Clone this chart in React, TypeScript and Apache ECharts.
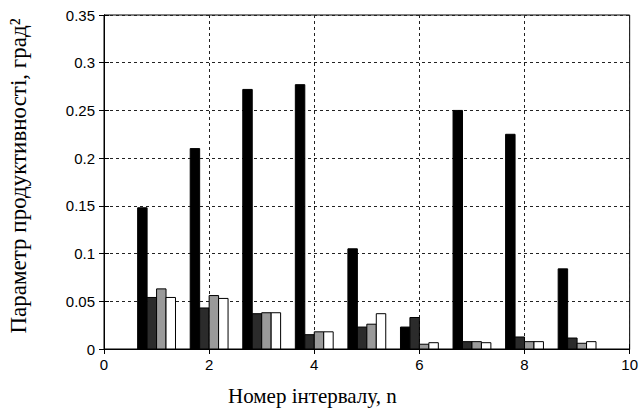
import React, { useEffect, useRef } from "react";
import * as echarts from "echarts";

const intervals = [1, 2, 3, 4, 5, 6, 7, 8, 9];
const series1 = [0.148, 0.21, 0.272, 0.277, 0.105, 0.023, 0.25, 0.225, 0.084];
const series2 = [0.054, 0.043, 0.037, 0.015, 0.023, 0.033, 0.0077, 0.0126, 0.0115];
const series3 = [0.063, 0.056, 0.038, 0.018, 0.026, 0.005, 0.0077, 0.0077, 0.006];
const series4 = [0.054, 0.053, 0.038, 0.018, 0.037, 0.0066, 0.0066, 0.0077, 0.0077];
const seriesFills = ["#000000", "#2b2b2b", "#9a9a9a", "#ffffff"];
const seriesOffsets = [-0.27, -0.09, 0.09, 0.27];
const xTitle = "Номер інтервалу, n";
const yTitle = "Параметр продуктивності, град²";

export default function App() {
  const ref = useRef<HTMLDivElement>(null);
  useEffect(() => {
    document.body.style.margin = "0";
    const chart = echarts.init(ref.current!, null, { renderer: "svg" });
    const all = [series1, series2, series3, series4];
    const barW = 0.18;
    const gridLine = { show: true, lineStyle: { color: "#222", type: [3, 3] as any, width: 1 } };
    const tickLabel = { fontFamily: "Liberation Sans", fontSize: 15, color: "#000" };
    chart.setOption({
      animation: false,
      backgroundColor: "#fff",
      grid: { left: 104, right: 8, top: 15, bottom: 61, show: true, borderColor: "#000", borderWidth: 1 },
      xAxis: [
        {
          type: "value", min: 0, max: 10, interval: 2, position: "bottom",
          axisLine: { show: true, lineStyle: { color: "#000" } },
          axisTick: { show: true, inside: true, length: 5, lineStyle: { color: "#000" } },
          axisLabel: { ...tickLabel, margin: 8 },
          splitLine: gridLine,
        },
        {
          type: "value", min: 0, max: 10, interval: 2, position: "top",
          axisLine: { show: true, lineStyle: { color: "#000" } },
          axisTick: { show: true, inside: true, length: 5, lineStyle: { color: "#000" } },
          axisLabel: { show: false }, splitLine: { show: false },
        },
      ],
      yAxis: [
        {
          type: "value", min: 0, max: 0.35, interval: 0.05, position: "left",
          axisLine: { show: true, lineStyle: { color: "#000" } },
          axisTick: { show: true, inside: true, length: 5, lineStyle: { color: "#000" } },
          axisLabel: { ...tickLabel, margin: 9, formatter: (v: number) => String(+v.toFixed(2)) },
          splitLine: gridLine,
        },
        {
          type: "value", min: 0, max: 0.35, interval: 0.05, position: "right",
          axisLine: { show: true, lineStyle: { color: "#000" } },
          axisTick: { show: true, inside: true, length: 5, lineStyle: { color: "#000" } },
          axisLabel: { show: false }, splitLine: { show: false },
        },
      ],
      graphic: [
        {
          type: "text", left: 228, top: 385,
          style: { text: xTitle, font: "21px 'Liberation Serif'", fill: "#000" },
        },
        {
          type: "text", x: 7, y: 176, rotation: Math.PI / 2,
          style: { text: yTitle, font: "23px 'Liberation Serif'", fill: "#000", align: "center", verticalAlign: "top" },
        },
      ],
      series: all.map((vals, si) => ({
        type: "custom",
        xAxisIndex: 0,
        yAxisIndex: 0,
        encode: { x: 0, y: 1 },
        data: intervals.map((n, i) => [n, vals[i]]),
        renderItem: (params: any, api: any) => {
          const x = api.value(0) + seriesOffsets[si];
          const y = api.value(1);
          const p1 = api.coord([x - barW / 2, y]);
          const p2 = api.coord([x + barW / 2, 0]);
          return {
            type: "rect",
            shape: { x: p1[0], y: p1[1], width: p2[0] - p1[0], height: p2[1] - p1[1] },
            style: { fill: seriesFills[si], stroke: "#000", lineWidth: 1 },
          };
        },
      })),
    });
    return () => chart.dispose();
  }, []);
  return <div ref={ref} style={{ width: 641, height: 410 }} />;
}
